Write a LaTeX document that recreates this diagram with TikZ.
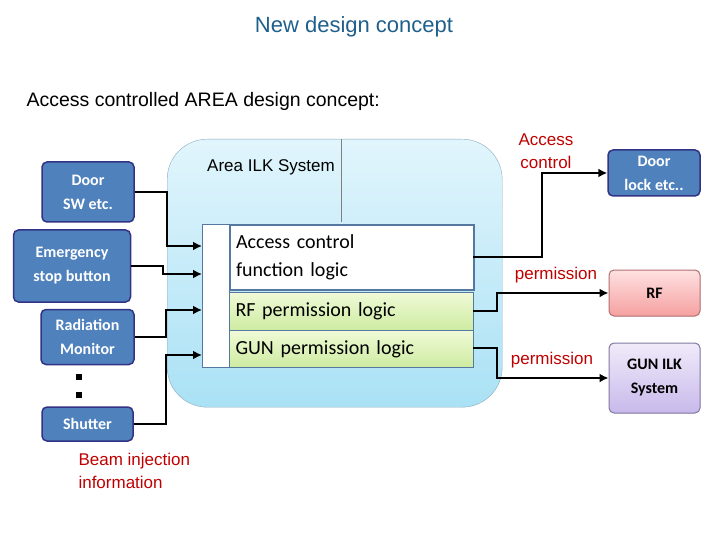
\documentclass[tikz,border=0pt]{standalone}
\usepackage{fontspec}
\usetikzlibrary{arrows.meta}
\setmainfont{Liberation Sans}
\newfontfamily\carlitofont{Carlito}
\begin{document}
\begin{tikzpicture}[x=1pt,y=-1pt,
 bluebox/.style={draw=blue!40!black!80,line width=1.5pt,rounded corners=5pt,fill={rgb,255:red,79;green,129;blue,189},text=white,font=\carlitofont\bfseries\fontsize{16}{24}\selectfont,align=center,inner sep=0},
 logic/.style={draw={rgb,255:red,85;green,120;blue,160},line width=1pt,font=\carlitofont\fontsize{20}{28}\selectfont,align=left,anchor=north west,inner sep=6pt,text width=232pt},
 arr/.style={line width=2.5pt,-{Latex[length=9pt,width=9pt]}},
 red/.style={text={rgb,255:red,192;green,0;blue,0},font=\fontsize{17}{23}\selectfont,align=center}]
\useasboundingbox (0,0) rectangle (720,540);
\node (title) at (354,27) {\fontsize{22}{26}\selectfont\color[RGB]{31,95,140}New design concept};
\node[anchor=west] (sub) at (23,101) {\fontsize{19.5}{24}\selectfont Access controlled AREA design concept:};
\node[draw={rgb,255:red,140;green,170;blue,190},rounded corners=40pt,top color={rgb,255:red,225;green,245;blue,252},bottom color={rgb,255:red,170;green,225;blue,245},minimum width=335pt,minimum height=268pt,anchor=north west] (area) at (167,139) {};
\draw[gray] (341,139) -- (341,222);
\node (ilk) at (271,167) {\fontsize{17}{20}\selectfont Area ILK System};
\node[draw={rgb,255:red,85;green,120;blue,160},fill=white,line width=1pt,minimum width=27pt,minimum height=143pt,anchor=north west,inner sep=0] (strip) at (202,224) {};
\node[logic,fill=white,minimum height=65pt,line width=2pt] (acl) at (229,224) {Access control\\function logic};
\node[logic,top color={rgb,255:red,240;green,250;blue,215},bottom color={rgb,255:red,205;green,235;blue,160},minimum height=38pt] (rfl) at (229,292) {RF permission logic};
\node[logic,top color={rgb,255:red,240;green,250;blue,215},bottom color={rgb,255:red,205;green,235;blue,160},minimum height=37pt] (gunl) at (229,330) {GUN permission logic};
\node[bluebox,minimum width=92pt,minimum height=60pt] (door) at (88,192) {Door\\SW etc.};
\node[bluebox,minimum width=117pt,minimum height=72pt] (emer) at (72,266) {Emergency\\stop button};
\node[bluebox,minimum width=93pt,minimum height=55pt] (rad) at (87.5,337) {Radiation\\Monitor};
\node[bluebox,minimum width=91pt,minimum height=34pt] (shut) at (87.5,424) {Shutter};
\fill (76,374) rectangle (82,380);
\fill (76,392) rectangle (82,398);
\node[bluebox,minimum width=92pt,minimum height=46pt] (dlock) at (654,173) {Door\\lock etc..};
\node[bluebox,draw={rgb,255:red,180;green,110;blue,110},line width=1pt,text=black,top color={rgb,255:red,255;green,225;blue,225},bottom color={rgb,255:red,245;green,160;blue,160},minimum width=91pt,minimum height=46pt] (rf) at (654.5,293) {RF};
\node[bluebox,draw={rgb,255:red,130;green,120;blue,160},line width=1pt,text=black,top color={rgb,255:red,240;green,235;blue,250},bottom color={rgb,255:red,200;green,185;blue,235},minimum width=91pt,minimum height=70pt] (gun) at (654.5,378) {GUN ILK\\System};
\draw[arr] (door.east) -| (167,246) -- (202,246);
\draw[arr] (emer.east) -| (163,274) -- (202,274);
\draw[arr] (rad.east) -| (166,310) -- (202,310);
\draw[arr] (shut.east) -| (166,355) -- (202,355);
\draw[arr] (473,257) -| (542,173) -- (dlock.west);
\draw[arr] (473,311) -| (497,293) -- (rf.west);
\draw[arr] (473,348) -| (497,378) -- (gun.west);
\node[red] (lac) at (546,151) {Access\\control};
\node[red] (lp1) at (556,275) {permission};
\node[red] (lp2) at (552,360) {permission};
\node[red,align=left,anchor=north west] (beam) at (75,450) {Beam injection\\information};
\end{tikzpicture}
\end{document}
